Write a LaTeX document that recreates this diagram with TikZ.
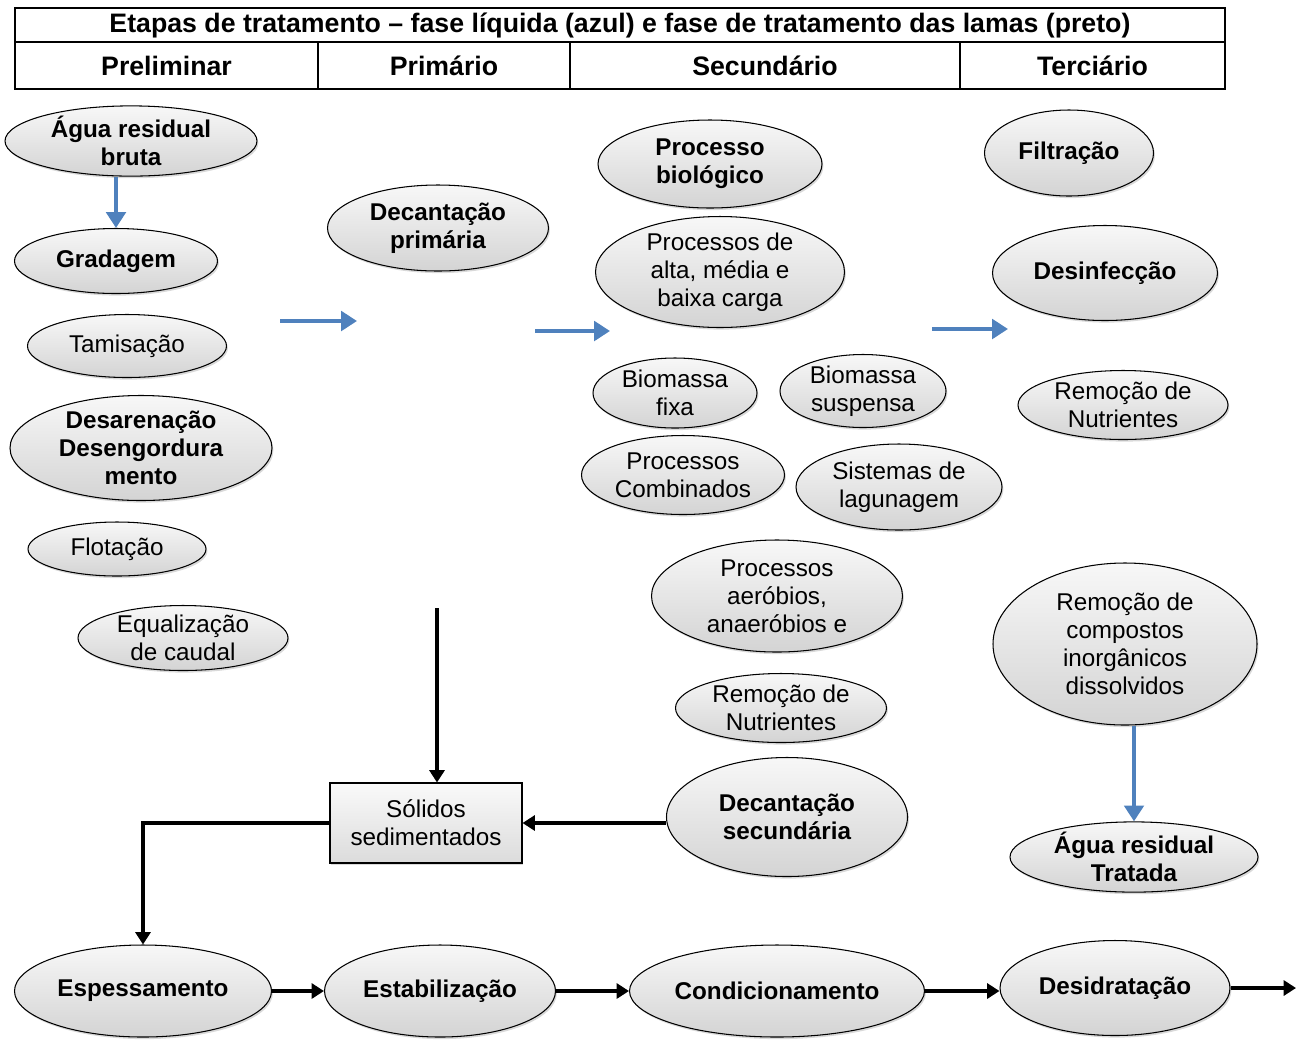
\documentclass[tikz,border=0pt]{standalone}
\usepackage{fontspec}
\setmainfont{Liberation Sans}
\usetikzlibrary{shapes.geometric, arrows.meta, shadows}
\definecolor{azul}{RGB}{79,129,189}

\begin{document}
\begin{tikzpicture}
[
    x=0.02cm, y=-0.02cm,
    every node/.style={font=\fontsize{13.8}{15.9}\selectfont, align=center},
    bold/.style={font=\fontsize{13.8}{15.9}\selectfont\bfseries},
    elli/.style 2 args={ellipse, draw=black, line width=0.6pt, top color=gray!6, bottom color=gray!34,
        drop shadow={opacity=0.3, shadow xshift=0.8pt, shadow yshift=-1.2pt},
        minimum width=#1*0.02cm, minimum height=#2*0.02cm, inner sep=0pt},
    cell/.style 2 args={rectangle, draw=black, line width=1.1pt, minimum width=#1*0.02cm,
        minimum height=#2*0.02cm, inner sep=0pt, font=\fontsize{15.2}{17}\selectfont\bfseries},
    blue arrow/.style={draw=azul, line width=2.8pt, -{Triangle[length=9pt, width=11pt]}},
    black arrow/.style={draw=black, line width=2.2pt, -{Triangle[length=7pt, width=8.5pt]}},
]
\useasboundingbox (0,0) rectangle (1301,1039);

\node [cell={1210}{34}] (title) at (620,25)
{Etapas de tratamento -- fase líquida (azul) e fase de tratamento das lamas (preto)};
\node [cell={303}{47}] (prelim) at (166.5,65.5) {Preliminar};
\node [cell={252}{47}] (prim) at (444,65.5) {Primário};
\node [cell={390}{47}] (sec) at (765,65.5) {Secundário};
\node [cell={265}{47}] (terc) at (1092.5,65.5) {Terciário};

\node [elli={252}{67}, bold] (bruta) at (131,141)
{Água residual\\bruta};
\node [elli={203}{65}, bold] (grad) at (116,261)
{Gradagem};
\node [elli={199}{63}] (tamis) at (127,346)
{Tamisação};
\node [elli={262}{105}, bold] (desar) at (141,448)
{Desarenação\\Desengordura\\mento};
\node [elli={178}{54}] (flot) at (117,549)
{Flotação};
\node [elli={210}{65}] (equal) at (183,638)
{Equalização\\de caudal};

\node [elli={221}{86}, bold] (decprim) at (438,228)
{Decantação\\primária};

\node [elli={224}{88}, bold] (biol) at (710,164)
{Processo\\biológico};
\node [elli={249}{92}] (carga) at (720,272)
{Processos de\\alta, média e\\baixa carga};
\node [elli={164}{70}] (fixa) at (675,393)
{Biomassa\\fixa};
\node [elli={166}{73}] (susp) at (863,391)
{Biomassa\\suspensa};
\node [elli={203}{79}] (comb) at (683,475)
{Processos\\Combinados};
\node [elli={206}{86}] (lagun) at (899,487)
{Sistemas de\\lagunagem};
\node [elli={251}{112}] (aerob) at (777,596)
{Processos\\aeróbios,\\anaeróbios e};
\node [elli={211}{69}] (nutsec) at (781,708)
{Remoção de\\Nutrientes};
\node [elli={241}{119}, bold] (decsec) at (787,817)
{Decantação\\secundária};

\node [elli={169}{86}, bold] (filtr) at (1069,153)
{Filtração};
\node [elli={225}{95}, bold] (desinf) at (1105,273)
{Desinfecção};
\node [elli={210}{69}] (nutter) at (1123,405)
{Remoção de\\Nutrientes};
\node [elli={264}{162}] (inorg) at (1125,644)
{Remoção de\\compostos\\inorgânicos\\dissolvidos};
\node [elli={248}{67}, bold] (tratada) at (1134,857)
{Água residual\\Tratada};

\node [rectangle, draw=black, line width=0.6pt, top color=gray!4, bottom color=gray!28,
    drop shadow={opacity=0.3, shadow xshift=0.8pt, shadow yshift=-1.2pt},
    minimum width=192*0.02cm, minimum height=80*0.02cm] (solidos) at (426,823)
{Sólidos\\sedimentados};

\node [elli={257}{92}, bold] (espess) at (143,991)
{Espessamento};
\node [elli={231}{92}, bold] (estab) at (440,991)
{Estabilização};
\node [elli={295}{92}, bold] (cond) at (777,991)
{Condicionamento};
\node [elli={230}{95}, bold] (desid) at (1115,988)
{Desidratação};

\coordinate (b1s) at (280,321);
\coordinate (b1e) at (357,321);
\coordinate (b2s) at (535,331);
\coordinate (b2e) at (610,331);
\coordinate (b3s) at (932,329);
\coordinate (b3e) at (1008,329);
\coordinate (lamas) at (437,608);
\coordinate (saida) at (1296,988);

\draw [blue arrow] (grad.north |- bruta.south) -- (grad.north);
\draw [blue arrow] (b1s) -- (b1e);
\draw [blue arrow] (b2s) -- (b2e);
\draw [blue arrow] (b3s) -- (b3e);
\draw [blue arrow] (tratada.north |- inorg.south) -- (tratada.north);

\draw [black arrow] (lamas) -- (lamas |- solidos.north);
\draw [black arrow] (solidos.east -| decsec.west) -- (solidos.east);
\draw [black arrow] (solidos.west) -| (espess.north);
\draw [black arrow] (espess) -- (estab);
\draw [black arrow] (estab) -- (cond);
\draw [black arrow] (cond.east) -- (cond.east -| desid.west);
\draw [black arrow] (desid) -- (saida);
\end{tikzpicture}
\end{document}
